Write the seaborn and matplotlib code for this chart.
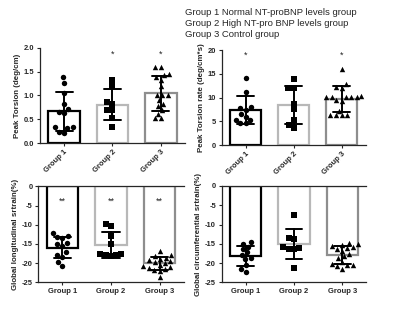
import numpy as np
import pandas as pd
import seaborn as sns
import matplotlib.pyplot as plt

sns.set_style('ticks')
plt.rcParams['font.family'] = ['Liberation Sans', 'DejaVu Sans']
plt.rcParams['axes.unicode_minus'] = False

groups = ['Group 1', 'Group 2', 'Group 3']
edge_colors = ['#000000', '#b8b8b8', '#8e8e8e']
markers = ['o', 's', '^']
marker_sizes = [3.9, 3.7, 3.9]

# Peak torsion (deg/cm)
torsion_g1 = [1.38, 1.27, 1.05, 0.83, 0.72, 0.66, 0.63, 0.33, 0.32, 0.33, 0.22, 0.24]
torsion_g2 = [1.33, 1.19, 0.86, 0.82, 0.70, 0.70, 0.52, 0.33]
torsion_g3 = [1.60, 1.60, 1.46, 1.42, 1.38, 1.32, 1.20, 1.00, 1.00, 1.00, 0.90,
              0.82, 0.78, 0.70, 0.62, 0.52, 0.52]

# Peak torsion rate
rate_g1 = [14.2, 11.2, 8.0, 7.8, 7.5, 6.6, 6.0, 5.4, 5.2, 4.6, 4.6]
rate_g2 = [14.0, 12.0, 12.0, 8.7, 7.6, 5.2, 4.3, 3.7]
rate_g3 = [16.1, 12.9, 12.3, 12.1, 10.3, 10.2, 10.2, 10.1, 10.1, 10.2, 9.5,
           9.3, 7.3, 6.3, 6.3, 6.3, 6.3]

# Global longitudinal strain (%)
gls_g1 = [-12.2, -13.0, -13.2, -13.5, -15.0, -14.8, -15.5, -17.2, -17.8, -18.3, -19.8, -20.8]
gls_g2 = [-9.8, -10.3, -13.0, -15.1, -17.5, -17.9, -18.0, -18.1, -17.6]
gls_g3 = [-16.8, -17.9, -18.1, -18.6, -18.8, -19.2, -19.4, -19.8, -20.0, -20.4,
          -20.8, -21.0, -21.2, -21.6, -21.8, -22.0, -23.6]

# Global circumferential strain (%)
gcs_g1 = [-14.6, -15.0, -15.8, -16.4, -17.2, -17.8, -18.6, -19.0, -20.4, -21.6, -22.2]
gcs_g2 = [-7.5, -13.4, -13.8, -15.9, -16.3, -16.4, -16.2, -21.3]
gcs_g3 = [-14.7, -15.1, -15.3, -15.5, -15.8, -16.0, -16.4, -16.8, -17.6, -18.2,
          -18.6, -19.6, -20.2, -20.4, -20.6, -20.8, -21.4]

legend_lines = ['Group 1 Normal NT-proBNP levels group',
                'Group 2 High NT-pro BNP levels group',
                'Group 3 Control group']


def long_form(g1, g2, g3):
    rows = []
    for name, vals in zip(groups, (g1, g2, g3)):
        for v in vals:
            rows.append({'group': name, 'value': v})
    return pd.DataFrame(rows)


def draw_panel(ax, df, ylim, yticks, ylabel, fmt, stars, star_y, negative=False):
    sns.barplot(data=df, x='group', y='value', hue='group', order=groups,
                hue_order=groups, palette=edge_colors, fill=False, linewidth=1.6,
                width=0.65, errorbar='sd', capsize=0.35,
                err_kws={'color': 'black', 'linewidth': 1.4}, legend=False, ax=ax)
    for i, g in enumerate(groups):
        sub = df[df['group'] == g]
        sns.swarmplot(x=sub['group'], y=sub['value'], order=groups, color='black',
                      marker=markers[i], size=marker_sizes[i], ax=ax)
    for i, s in enumerate(stars):
        if s:
            ax.text(i, star_y, s, ha='center', va='center', fontsize=6.5, color='#222222')
    ax.set_ylim(*ylim)
    ax.set_xlim(-0.5, 2.5)
    ax.set_yticks(yticks)
    ax.set_yticklabels([fmt.format(t) for t in yticks], fontsize=5.4, fontweight='bold')
    ax.set_ylabel(ylabel, fontsize=5.7, fontweight='bold', labelpad=2)
    ax.set_xlabel('')
    ax.tick_params(axis='both', length=2.5, width=0.8, pad=1.5)
    for sp in ax.spines.values():
        sp.set_linewidth(0.9)
    ax.spines['right'].set_visible(False)
    ax.set_xticks(range(3))
    if negative:
        ax.spines['top'].set_visible(True)
        ax.set_xticklabels(groups, fontsize=5.5, fontweight='bold')
    else:
        ax.spines['top'].set_visible(False)
        ax.set_xticklabels(groups, fontsize=5.5, fontweight='bold', rotation=45,
                           ha='right', rotation_mode='anchor')


fig = plt.figure(figsize=(4, 3.11), dpi=100)
ax1 = fig.add_axes([0.100, 0.540, 0.3625, 0.306])
ax2 = fig.add_axes([0.554, 0.533, 0.360, 0.306])
ax3 = fig.add_axes([0.095, 0.092, 0.365, 0.309])
ax4 = fig.add_axes([0.554, 0.092, 0.362, 0.310])

draw_panel(ax1, long_form(torsion_g1, torsion_g2, torsion_g3), (0, 2.0),
           [0, 0.5, 1.0, 1.5, 2.0], 'Peak Torsion (deg/cm)', '{:.1f}',
           ['', '*', '*'], 1.87)
draw_panel(ax2, long_form(rate_g1, rate_g2, rate_g3), (0, 20),
           [0, 5, 10, 15, 20], 'Peak Torsion rate (deg/cm*s)', '{:.0f}',
           ['*', '', '*'], 19.0)
draw_panel(ax3, long_form(gls_g1, gls_g2, gls_g3), (-25, 0),
           [0, -5, -10, -15, -20, -25], 'Global longitudinal srtrain(%)', '{:.0f}',
           ['**', '**', '**'], -4.0, negative=True)
draw_panel(ax4, long_form(gcs_g1, gcs_g2, gcs_g3), (-25, 0),
           [0, -5, -10, -15, -20, -25], 'Global circumferential srtrain(%)', '{:.0f}',
           ['', '', ''], -4.0, negative=True)

for k, line in enumerate(legend_lines):
    fig.text(0.4625, 0.959 - k * 0.035, line, fontsize=6.8, va='center', ha='left')

fig.savefig('out.png', dpi=100)
